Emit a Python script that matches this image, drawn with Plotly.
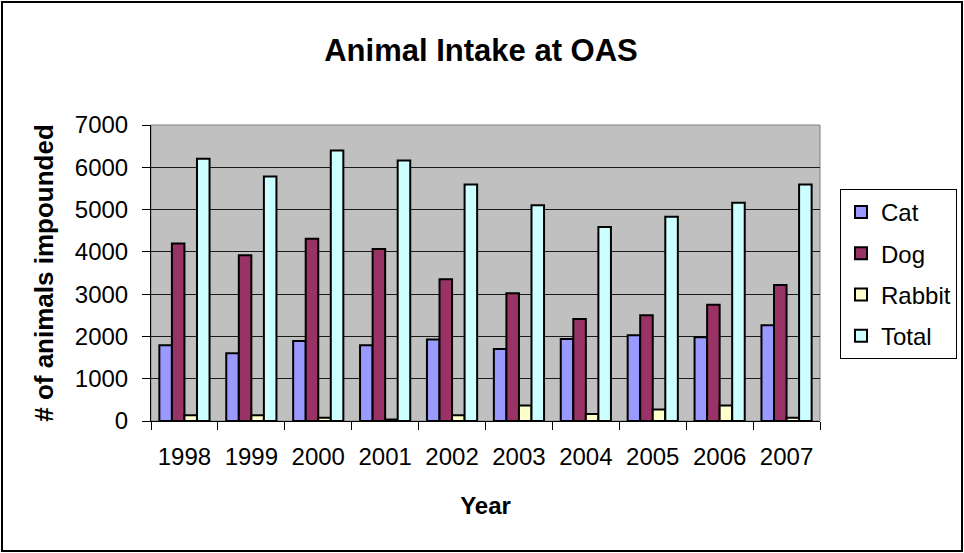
import plotly.graph_objects as go

years = ["1998", "1999", "2000", "2001", "2002", "2003", "2004", "2005", "2006", "2007"]
cat = [1790, 1600, 1890, 1790, 1930, 1700, 1940, 2030, 1980, 2265]
dog = [4200, 3920, 4310, 4070, 3350, 3020, 2415, 2500, 2750, 3215]
rabbit = [135, 135, 75, 35, 135, 365, 165, 270, 365, 75]
total = [6200, 5780, 6395, 6160, 5590, 5105, 4590, 4830, 5160, 5590]

series = [
    ("Cat", cat, "#9999FF"),
    ("Dog", dog, "#993366"),
    ("Rabbit", rabbit, "#FFFFCC"),
    ("Total", total, "#CCFFFF"),
]

FONT = "Arial, Liberation Sans, sans-serif"

fig = go.Figure()
for name, vals, color in series:
    fig.add_trace(go.Bar(
        x=years, y=vals, name=name, legendgroup=name,
        marker=dict(color=color, line=dict(color="black", width=2)),
    ))

L, R, T, B = 151, 144, 125, 132
W, H = 964, 553
pw = W - L - R
ph = H - T - B

def px_x(x):
    return (x - L) / pw

def px_y(y):
    return (H - B - y) / ph

fig.update_layout(
    width=W, height=H,
    autosize=False,
    margin=dict(l=L, r=R, t=T, b=B, autoexpand=False),
    paper_bgcolor="white",
    plot_bgcolor="#C0C0C0",
    font=dict(family=FONT, size=24, color="black"),
    barmode="group",
    bargap=0.25,
    bargroupgap=0,
    title=dict(text="<b>Animal Intake at OAS</b>", x=px_x(481), xref="paper", xanchor="center",
               y=1 - 50 / H, yanchor="middle", font=dict(size=31, family=FONT)),
    legend=dict(
        xref="container", yref="container",
        x=840 / W, y=1 - 189 / H, xanchor="left", yanchor="top",
        bordercolor="black", borderwidth=1, bgcolor="white",
        font=dict(size=24, family=FONT), tracegroupgap=7,
        traceorder="grouped",
    ),
    xaxis=dict(
        type="category",
        tickson="boundaries",
        ticks="outside", ticklen=8, tickcolor="black",
        showline=True, linecolor="black", linewidth=1,
        showgrid=False,
        ticklabelstandoff=14,
        title=dict(text="<b>Year</b>", font=dict(size=24, family=FONT), standoff=28),
        tickfont=dict(size=24),
    ),
    yaxis=dict(
        range=[0, 7000], dtick=1000,
        ticks="outside", ticklen=8, tickcolor="black",
        showline=True, linecolor="black", linewidth=1,
        showgrid=True, gridcolor="#1a1a1a", gridwidth=1,
        zeroline=False,
        ticklabelstandoff=9,
        title=dict(text="<b># of animals impounded</b>", font=dict(size=26, family=FONT), standoff=13),
        tickfont=dict(size=24),
    ),
    shapes=[
        dict(type="rect", xref="paper", yref="paper", x0=0, x1=1, y0=0, y1=1,
             line=dict(color="#808080", width=1), layer="below"),
        dict(type="rect", xref="paper", yref="paper",
             x0=px_x(2), x1=px_x(962), y0=px_y(551), y1=px_y(2),
             line=dict(color="black", width=2)),
    ],
)

fig.write_html("out.html", config={"displayModeBar": False},
               post_script="document.body.style.margin='0';")
